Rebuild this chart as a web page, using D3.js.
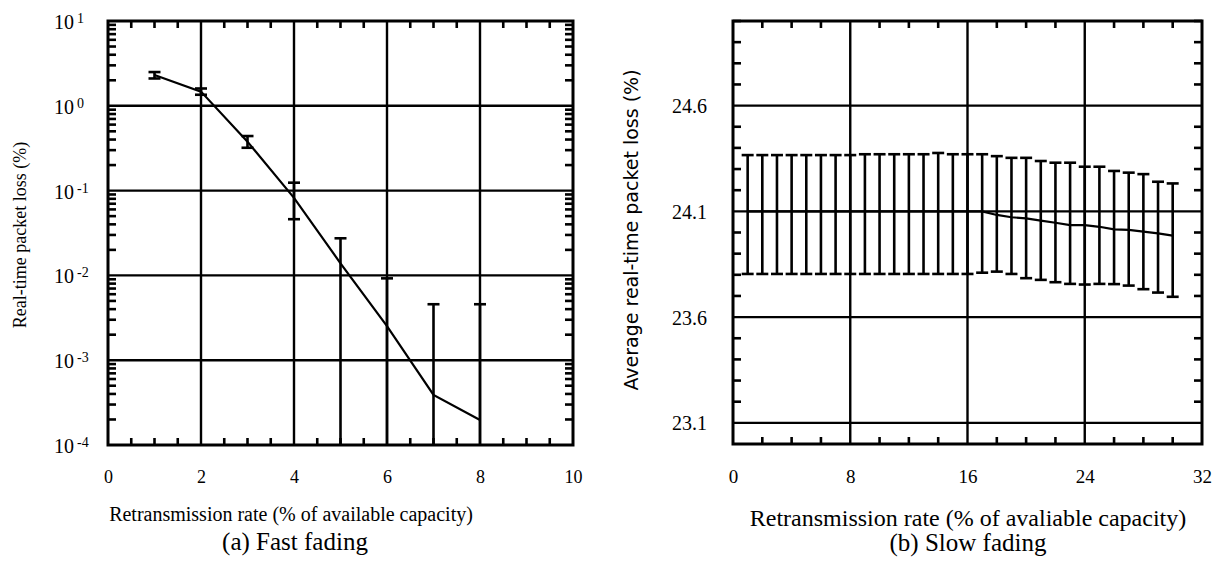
<!DOCTYPE html>
<html>
<head>
<meta charset="utf-8">
<script src="https://cdn.jsdelivr.net/npm/d3@7"></script>
<style>
body { margin: 0; background: #fff; }
</style>
</head>
<body>
<svg width="1215" height="563"></svg>
<script>
// (a) fast fading - log scale
const fastRate = [1, 2, 3, 4, 5, 6, 7, 8]
const fastLoss = [2.31, 1.47, 0.378, 0.082, 0.0139, 0.00253, 0.00039, 0.000197]
const fastHigh = [2.5, 1.6, 0.44, 0.124, 0.0274, 0.00923, 0.00457, 0.00457]
const fastLow = [2.1, 1.35, 0.32, 0.046, 0, 0, 0, 0] // 0 = below the axis
const fastXTicks = [0, 2, 4, 6, 8, 10]
const fastYTicks = [1e-4, 1e-3, 1e-2, 1e-1, 1, 10]
const fastYExp = ["-4", "-3", "-2", "-1", "0", "1"]

// (b) slow fading
const slowRate = d3.range(1, 31)
const slowLoss = [24.1, 24.1, 24.1, 24.1, 24.1, 24.1, 24.1, 24.1, 24.1, 24.1,
    24.1, 24.1, 24.1, 24.1, 24.1, 24.1, 24.1, 24.083, 24.072, 24.067,
    24.056, 24.046, 24.035, 24.035, 24.027, 24.015, 24.012, 24.004, 23.996, 23.985]
const slowHigh = [24.366, 24.366, 24.366, 24.366, 24.366, 24.366, 24.366, 24.366, 24.37, 24.37,
    24.37, 24.37, 24.37, 24.376, 24.37, 24.37, 24.37, 24.361, 24.353, 24.353,
    24.338, 24.33, 24.33, 24.311, 24.311, 24.291, 24.283, 24.276, 24.24, 24.232]
const slowLow = [23.804, 23.804, 23.804, 23.804, 23.804, 23.804, 23.804, 23.804, 23.804, 23.804,
    23.804, 23.804, 23.804, 23.804, 23.804, 23.804, 23.81, 23.815, 23.804, 23.784,
    23.776, 23.765, 23.757, 23.754, 23.757, 23.756, 23.749, 23.732, 23.716, 23.696]
const slowXTicks = [0, 8, 16, 24, 32]
const slowYTicks = [23.1, 23.6, 24.1, 24.6]

const SERIF = "'Liberation Serif', 'Times New Roman', serif"
const CAP = 6

const svg = d3.select("svg")

function frameAndGrid(g, x, y, xGrid, yGrid, xMinor, yMinor) {
    let [x0, x1] = x.range()
    let [y1, y0] = y.range()

    // grid lines
    g.append("g").selectAll("line").data(xGrid).join("line")
        .attr("x1", d => x(d)).attr("x2", d => x(d))
        .attr("y1", y0).attr("y2", y1)
        .attr("stroke", "#000").attr("stroke-width", 2.4)
    g.append("g").selectAll("line").data(yGrid).join("line")
        .attr("x1", x0).attr("x2", x1)
        .attr("y1", d => y(d)).attr("y2", d => y(d))
        .attr("stroke", "#000").attr("stroke-width", 2.4)

    // minor ticks, pointing inwards on all four sides
    let mt = g.append("g").attr("stroke", "#000").attr("stroke-width", 2.6)
    xMinor.forEach(v => {
        mt.append("line").attr("x1", x(v)).attr("x2", x(v)).attr("y1", y1).attr("y2", y1 - 7)
        mt.append("line").attr("x1", x(v)).attr("x2", x(v)).attr("y1", y0).attr("y2", y0 + 7)
    })
    yMinor.forEach(v => {
        mt.append("line").attr("x1", x0).attr("x2", x0 + 8).attr("y1", y(v)).attr("y2", y(v))
        mt.append("line").attr("x1", x1).attr("x2", x1 - 8).attr("y1", y(v)).attr("y2", y(v))
    })
}

function border(g, x, y) {
    let [x0, x1] = x.range()
    let [y1, y0] = y.range()
    g.append("rect")
        .attr("x", x0).attr("y", y0)
        .attr("width", x1 - x0).attr("height", y1 - y0)
        .attr("fill", "none").attr("stroke", "#000").attr("stroke-width", 3)
}

function errorBars(g, x, y, xs, hi, lo) {
    let bottom = y.range()[0]
    xs.forEach((v, i) => {
        let yt = y(hi[i])
        let yb = lo[i] > 0 ? y(lo[i]) : bottom
        g.append("line").attr("x1", x(v)).attr("x2", x(v)).attr("y1", yt).attr("y2", yb)
            .attr("stroke", "#000").attr("stroke-width", 2.6)
        g.append("line").attr("x1", x(v) - CAP).attr("x2", x(v) + CAP).attr("y1", yt).attr("y2", yt)
            .attr("stroke", "#000").attr("stroke-width", 2.6)
        if (lo[i] > 0) {
            g.append("line").attr("x1", x(v) - CAP).attr("x2", x(v) + CAP).attr("y1", yb).attr("y2", yb)
                .attr("stroke", "#000").attr("stroke-width", 2.6)
        }
    })
}

function xLabels(g, x, ticks, base, size) {
    let ax = g.append("g")
        .attr("transform", "translate(0," + base + ")")
        .call(d3.axisBottom(x).tickValues(ticks).tickSize(0).tickPadding(0).tickFormat(d3.format("d")))
    ax.select(".domain").remove()
    ax.attr("font-family", SERIF).attr("font-size", size)
    ax.selectAll("text").attr("dy", null).attr("y", 0).attr("fill", "#000")
}

/////// panel (a)

const xa = d3.scaleLinear([0, 10], [108, 573])
const ya = d3.scaleLog([1e-4, 10], [445, 21])
const ga = svg.append("g")

let aMinorY = ya.ticks().filter(v => Math.abs(Math.log10(v) - Math.round(Math.log10(v))) > 1e-6)
let aMinorX = d3.range(0.5, 10, 0.5).filter(v => v % 2 !== 0)
frameAndGrid(ga, xa, ya, [2, 4, 6, 8], fastYTicks.slice(1, -1), aMinorX, aMinorY)

ga.append("path")
    .datum(fastRate.map((v, i) => [v, fastLoss[i]]))
    .attr("fill", "none").attr("stroke", "#000").attr("stroke-width", 2.2)
    .attr("d", d3.line().x(d => xa(d[0])).y(d => ya(d[1])))
errorBars(ga, xa, ya, fastRate, fastHigh, fastLow)
border(ga, xa, ya)

xLabels(ga, xa, fastXTicks, 483, 18)

let yla = ga.append("g").attr("font-family", SERIF)
fastYTicks.forEach((v, i) => {
    let t = yla.append("text").attr("x", 54).attr("y", ya(v) + 8).attr("font-size", 20)
    t.append("tspan").text("10")
    t.append("tspan").attr("dx", 3).attr("dy", -6).attr("font-size", 14).text(fastYExp[i])
})

ga.append("text")
    .attr("transform", "translate(26,235) rotate(-90)")
    .attr("text-anchor", "middle").attr("font-family", SERIF).attr("font-size", 18)
    .text("Real-time packet loss (%)")
ga.append("text")
    .attr("x", 291).attr("y", 521)
    .attr("text-anchor", "middle").attr("font-family", SERIF).attr("font-size", 20)
    .text("Retransmission rate (% of available capacity)")
ga.append("text")
    .attr("x", 295).attr("y", 550)
    .attr("text-anchor", "middle").attr("font-family", SERIF).attr("font-size", 25)
    .text("(a) Fast fading")

/////// panel (b)

const xb = d3.scaleLinear([0, 32], [733, 1202])
const yb = d3.scaleLinear([23, 25], [444, 21])
const gb = svg.append("g")

let bMinorX = d3.range(2, 32, 2).filter(v => v % 8 !== 0)
let bMinorY = d3.range(23.2, 25, 0.1).map(v => Math.round(v * 10) / 10)
    .filter(v => !slowYTicks.some(t => Math.abs(t - v) < 1e-6))
frameAndGrid(gb, xb, yb, [8, 16, 24], slowYTicks, bMinorX, bMinorY)

errorBars(gb, xb, yb, slowRate, slowHigh, slowLow)
gb.append("path")
    .datum(slowRate.map((v, i) => [v, slowLoss[i]]))
    .attr("fill", "none").attr("stroke", "#000").attr("stroke-width", 2.2)
    .attr("d", d3.line().x(d => xb(d[0])).y(d => yb(d[1])))
border(gb, xb, yb)

xLabels(gb, xb, slowXTicks, 483, 19)

let ylb = gb.append("g")
    .attr("transform", "translate(707,0)")
    .call(d3.axisLeft(yb).tickValues(slowYTicks).tickSize(0).tickPadding(0).tickFormat(d3.format(".1f")))
ylb.select(".domain").remove()
ylb.attr("font-family", SERIF).attr("font-size", 20)
ylb.selectAll("text").attr("dy", 7).attr("x", 0).attr("fill", "#000")

gb.append("text")
    .attr("transform", "translate(638,230) rotate(-90)")
    .attr("text-anchor", "middle").attr("font-family", "'DejaVu Sans', sans-serif").attr("font-size", 19)
    .text("Average real-time packet loss (%)")
gb.append("text")
    .attr("x", 968).attr("y", 526)
    .attr("text-anchor", "middle").attr("font-family", SERIF).attr("font-size", 24)
    .text("Retransmission rate (% of avaliable capacity)")
gb.append("text")
    .attr("x", 968).attr("y", 551)
    .attr("text-anchor", "middle").attr("font-family", SERIF).attr("font-size", 25)
    .text("(b) Slow fading")
</script>
</body>
</html>
